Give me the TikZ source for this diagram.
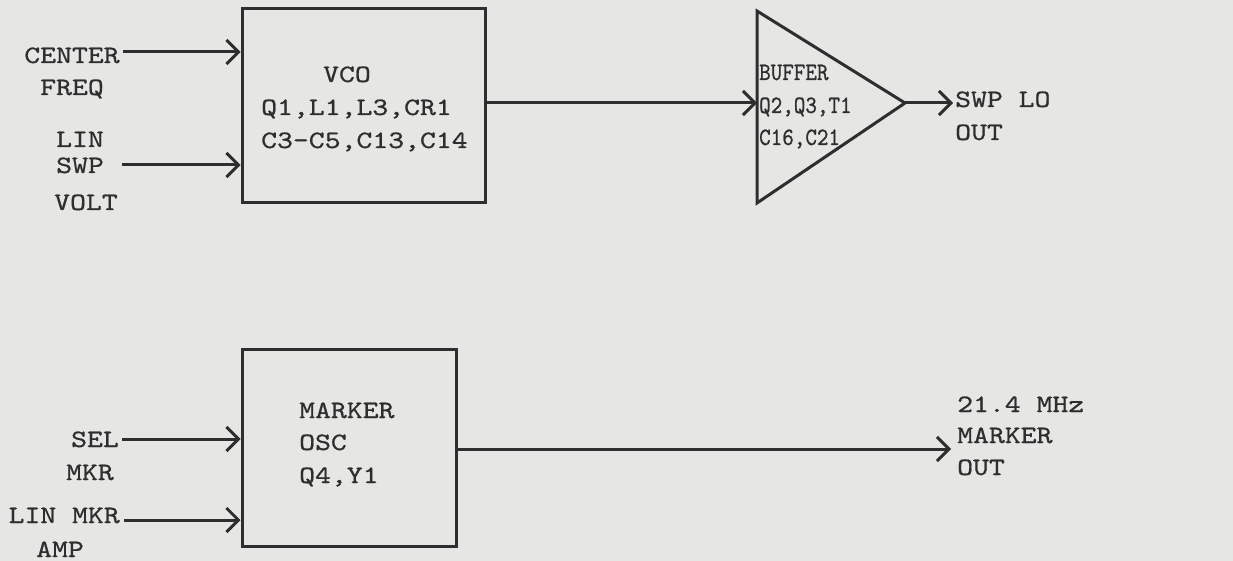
\documentclass[tikz,border=0pt]{standalone}
\usepackage{fontspec}
\usetikzlibrary{arrows.meta}
\newfontfamily\twf[FakeBold=0.8,FakeStretch=1.21]{lmmono10-regular.otf}
\newfontfamily\tnf[FakeBold=0.8,FakeStretch=0.88]{lmmono10-regular.otf}
\definecolor{bg}{HTML}{E6E6E4}
\definecolor{ink}{HTML}{2E2E2E}
\begin{document}
\begin{tikzpicture}[x=1pt,y=-1pt,
  lbl/.style={inner sep=0pt, text=ink, font=\twf\fontsize{25}{30}\selectfont},
  lbn/.style={inner sep=0pt, text=ink, font=\tnf\fontsize{25}{30}\selectfont},
  blk/.style={draw=ink, line width=3pt, inner sep=0pt},
  arr/.style={draw=ink, line width=3pt, -{Straight Barb[length=12pt,width=24pt]}}]
\fill[bg] (0,0) rectangle (1233,561);
\useasboundingbox (0,0) rectangle (1233,561);
% blocks
\node[blk, minimum width=243pt, minimum height=194pt] (vco) at (363.5,106) {};
\node[blk, minimum width=214pt, minimum height=197pt] (mk) at (349,447.5) {};
\coordinate (bt) at (757,11);
\coordinate (bb) at (757,203);
\coordinate (tip) at (905,103);
\coordinate (bin) at (757,103);
\draw[blk, line join=miter] (bt) -- (tip) -- (bb) -- cycle;
% texts top
\node[lbl, anchor=base] (cen) at (72,63) {CENTER};
\node[lbl, anchor=base] (frq) at (72,95) {FREQ};
\node[lbl, anchor=base west] (lin) at (56,147) {LIN};
\node[lbl, anchor=base west] (swp) at (56,173) {SWP};
\node[lbl, anchor=base west] (vlt) at (54,210) {VOLT};
\node[lbl, anchor=base] (vcot) at (347,82) {VCO};
\node[lbl, anchor=base west] (vc1) at (261,115) {Q1,L1,L3,CR1};
\node[lbl, anchor=base west] (vc2) at (261,148) {C3-C5,C13,C14};
\node[lbn, anchor=base west] (bf0) at (759,80) {BUFFER};
\node[lbn, anchor=base west] (bf1) at (759,113) {Q2,Q3,T1};
\node[lbn, anchor=base west] (bf2) at (759,145) {C16,C21};
\node[lbl, anchor=base west] (slo) at (955,107) {SWP LO};
\node[lbl, anchor=base west] (slo2) at (955,140) {OUT};
% texts bottom
\node[lbl, anchor=base west] (mk1) at (299,418) {MARKER};
\node[lbl, anchor=base west] (mk2) at (299,450) {OSC};
\node[lbl, anchor=base west] (mk3) at (299,483) {Q4,Y1};
\node[lbl, anchor=base east] (sel) at (119,447) {SEL};
\node[lbl, anchor=base] (mkr) at (90,480) {MKR};
\node[lbl, anchor=base east] (lmk) at (120,523) {LIN MKR};
\node[lbl, anchor=base] (amp) at (60,557) {AMP};
\node[lbl, anchor=base west] (mo1) at (957,412) {21.4 MHz};
\node[lbl, anchor=base west] (mo2) at (957,443) {MARKER};
\node[lbl, anchor=base west] (mo3) at (957,475) {OUT};
% connectors
\coordinate (cfs) at (123,52);
\coordinate (sws) at (122,165);
\coordinate (sls) at (122,439);
\coordinate (lms) at (124,520);
\coordinate (swpend) at (953,103);
\coordinate (mkend) at (951,449);
\draw[arr] (cfs) -- (cfs -| vco.west);
\draw[arr] (sws) -- (sws -| vco.west);
\draw[arr] (vco.east |- bin) -- (bin);
\draw[arr] (tip) -- (swpend);
\draw[arr] (sls) -- (sls -| mk.west);
\draw[arr] (lms) -- (lms -| mk.west);
\draw[arr] (mk.east |- mkend) -- (mkend);
\end{tikzpicture}
\end{document}
